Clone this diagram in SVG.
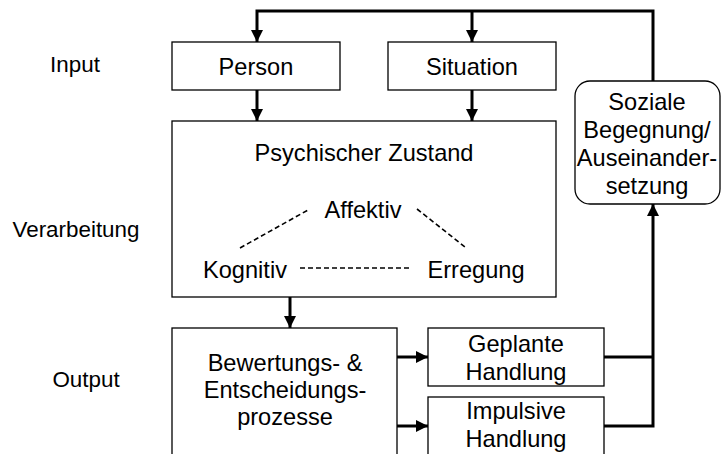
<svg xmlns="http://www.w3.org/2000/svg" width="722" height="454" viewBox="0 0 722 454">
<defs>
<style>
text{font-family:"Liberation Sans",Arial,sans-serif;font-size:23.6px;fill:#000;text-anchor:middle}
.lbl{font-size:22.4px}
.box{fill:#fff;stroke:#000;stroke-width:1.3}
.con{fill:none;stroke:#000;stroke-width:3}
.dash{fill:none;stroke:#000;stroke-width:1.6;stroke-dasharray:5 3}
</style>
<marker id="ah" viewBox="0 0 12 12" refX="12" refY="6" markerWidth="12" markerHeight="12" markerUnits="userSpaceOnUse" orient="auto">
<path d="M0,0 L12,6 L0,12 Z" fill="#000"/>
</marker>
</defs>
<rect width="722" height="454" fill="#fff"/>
<g id="labels">
<text class="lbl" x="75" y="72">Input</text>
<text class="lbl" x="76" y="237">Verarbeitung</text>
<text class="lbl" x="86" y="387">Output</text>
</g>
<g id="connectors">
<polyline class="con" points="653,81 653,11 257,11 257,42" marker-end="url(#ah)"/>
<line class="con" x1="472" y1="11" x2="472" y2="42" marker-end="url(#ah)"/>
<line class="con" x1="257" y1="90" x2="257" y2="121" marker-end="url(#ah)"/>
<line class="con" x1="472" y1="90" x2="472" y2="121" marker-end="url(#ah)"/>
<line class="con" x1="290" y1="297" x2="290" y2="328" marker-end="url(#ah)"/>
<line class="con" x1="397" y1="357" x2="428" y2="357" marker-end="url(#ah)"/>
<line class="con" x1="397" y1="426" x2="428" y2="426" marker-end="url(#ah)"/>
<polyline class="con" points="604,357 653,357"/>
<polyline class="con" points="604,426 653,426 653,204" marker-end="url(#ah)"/>
</g>
<g id="person">
<rect class="box" x="172" y="42" width="168" height="48"/>
<text x="256" y="75">Person</text>
</g>
<g id="situation">
<rect class="box" x="388" y="42" width="168" height="48"/>
<text x="472" y="75">Situation</text>
</g>
<g id="psychischer-zustand">
<rect class="box" x="172" y="121" width="384" height="176"/>
<text x="364" y="161">Psychischer Zustand</text>
<text x="363" y="218">Affektiv</text>
<text x="245" y="278">Kognitiv</text>
<text x="476" y="278">Erregung</text>
<line class="dash" x1="240" y1="248" x2="308" y2="210"/>
<line class="dash" x1="417" y1="209" x2="465" y2="247"/>
<line class="dash" x1="300" y1="268" x2="412" y2="268"/>
</g>
<g id="bewertung">
<rect class="box" x="172" y="328" width="225" height="140"/>
<text x="285" y="371">Bewertungs- &amp;</text>
<text x="285" y="398">Entscheidungs-</text>
<text x="285" y="425">prozesse</text>
</g>
<g id="geplante">
<rect class="box" x="428" y="328" width="176" height="58"/>
<text x="516" y="352">Geplante</text>
<text x="516" y="380">Handlung</text>
</g>
<g id="impulsive">
<rect class="box" x="428" y="397" width="176" height="70"/>
<text x="516" y="419">Impulsive</text>
<text x="516" y="447">Handlung</text>
</g>
<g id="soziale">
<rect class="box" x="575" y="81" width="145" height="123" rx="15" ry="15"/>
<text x="647" y="110">Soziale</text>
<text x="647" y="138">Begegnung/</text>
<text x="647" y="166">Auseinander-</text>
<text x="647" y="194">setzung</text>
</g>
</svg>
